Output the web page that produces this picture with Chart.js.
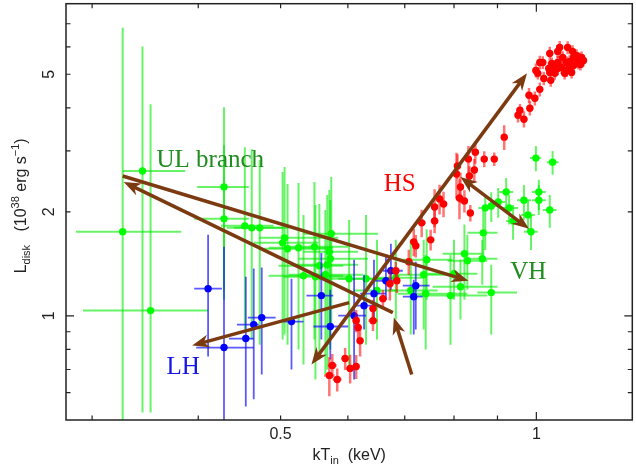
<!doctype html>
<html>
<head>
<meta charset="utf-8">
<title>Ldisk vs kTin</title>
<script src="https://cdn.jsdelivr.net/npm/chart.js@4/dist/chart.umd.min.js"></script>
<style>
  html, body { margin: 0; padding: 0; background: #fff; }
</style>
</head>
<body>
<canvas id="canvas" width="636" height="467"></canvas>
<script>
// axis ranges and ticks
var xRange = [0.2795, 1.297];
var yRange = [0.5, 8.0];
var xTicks = [0.3, 0.4, 0.5, 0.6, 0.7, 0.8, 0.9, 1];
var xLong = [1];
var xLabels = [0.5, 1];
var yTicks = [0.6, 0.7, 0.8, 0.9, 1, 2, 3, 4, 5, 6, 7];
var yLong = [1];
var yLabels = [1, 2, 5];

// green points (UL branch / VH)
var greenT   = [0.3259,0.3439,0.3515,0.4289,0.4289,0.4538,0.4624,0.4725,0.5054,0.5027,0.5095,0.5249,0.548,0.5736,0.5706,0.5721,0.5554,0.5675,0.5645,0.532,0.5495,0.6021,0.6303,0.6492,0.6833,0.7115,0.7429,0.7369,0.7409,0.7924,0.80,0.8141,0.8229,0.8295,0.8637,0.885,0.866,0.9856,0.9389,0.9777,0.9289,0.9018,0.885,0.8707,0.9215,0.9669,1.0067,1.0067,1.037,0.9987,1.045];
var greenTlo = [0.2872,0.3259,0.2927,0.3988,0.3956,0.4254,0.4323,0.4405,0.4713,0.4649,0.4776,0.4841,0.5108,0.532,0.532,0.5249,0.4973,0.5178,0.5108,0.4841,0.504,0.5539,0.5845,0.6086,0.6423,0.6688,0.6963,0.6778,0.687,0.725,0.7449,0.7549,0.7755,0.7861,0.8295,0.8522,0.8295,0.9669,0.9215,0.9594,0.9115,0.885,0.8683,0.8545,0.9042,0.949,0.988,0.988,1.0176,0.9829,1.0288];
var greenThi = [0.382,0.3861,0.4108,0.4587,0.4587,0.4906,0.504,0.5108,0.5845,0.5539,0.569,0.5767,0.6005,0.651,0.6169,0.6337,0.5925,0.6169,0.6252,0.5925,0.6005,0.6598,0.687,0.687,0.7349,0.7652,0.7967,0.8075,0.8295,0.8755,0.8522,0.90,0.8637,0.8755,0.90,0.949,0.90,1.004,0.9568,0.996,0.9515,0.919,0.9018,0.8874,0.9389,0.9856,1.0259,1.0259,1.0567,1.0121,1.0624];
var greenL   = [1.751,2.625,1.036,2.36,1.909,1.822,1.798,1.798,1.682,1.627,1.564,1.574,1.584,1.728,1.533,1.464,1.397,1.406,1.316,1.307,1.298,1.281,1.281,1.184,1.29,1.184,1.454,1.316,1.16,1.145,1.325,1.215,1.513,1.444,1.464,1.168,1.739,1.751,1.883,1.96,2.053,2.136,2.08,2.053,2.283,2.16,2.283,2.16,2.025,2.861,2.782];
var greenLlo = [0.48,0.526,0.526,1.115,1.191,0.913,0.854,0.826,0.883,0.854,0.826,0.80,0.854,0.913,0.826,0.80,0.748,0.70,0.677,0.724,0.655,0.70,0.826,0.854,0.976,0.883,1.114,0.913,0.80,0.826,1.114,0.976,1.114,1.191,1.231,0.883,1.453,1.552,1.66,1.751,1.838,1.922,1.868,1.552,2.053,1.895,2.025,1.96,1.798,2.62,2.56];
var greenLhi = [6.82,6.015,4.094,4.013,3.119,3.077,3.037,2.823,2.695,2.608,2.408,2.424,2.44,2.522,2.314,2.165,2.108,2.238,2.025,1.96,2.094,1.895,1.96,1.66,1.66,1.66,1.782,1.66,1.503,1.503,1.66,1.453,1.838,1.717,1.66,1.406,2.025,1.96,2.094,2.16,2.238,2.344,2.28,2.238,2.507,2.392,2.475,2.392,2.238,3.1,3.0];

// blue points (LH)
var blueT   = [0.4108,0.4289,0.455,0.4649,0.4751,0.515,0.5584,0.5721,0.6102,0.6269,0.644,0.6652,0.6742,0.7212,0.7173];
var blueTlo = [0.3956,0.3978,0.4347,0.4442,0.4575,0.504,0.5363,0.5465,0.5845,0.6086,0.6202,0.6458,0.6598,0.6963,0.6963];
var blueThi = [0.4265,0.4649,0.4649,0.4713,0.4933,0.532,0.5767,0.6005,0.6303,0.6458,0.6652,0.687,0.6963,0.7489,0.7349];
var blueL   = [1.199,0.81,0.86,0.944,0.989,0.963,1.145,0.932,1.002,1.071,1.16,1.264,1.351,1.223,1.137];
var blueLlo = [0.763,0.48,0.547,0.574,0.677,0.70,0.854,0.748,0.655,0.913,0.976,1.114,1.191,0.913,0.883];
var blueLhi = [1.717,1.584,1.298,1.372,1.38,1.281,1.52,1.191,1.453,1.316,1.453,1.503,1.617,1.434,1.272];

// red points (HS)
var redT = [0.5706,0.5752,0.583,0.5956,0.6037,0.6136,0.6202,0.6169,0.6136,0.6423,0.6423,0.6598,0.6724,0.6852,0.6833,0.7077,0.7173,0.7212,0.7509,0.7329,0.759,0.759,0.7693,0.7776,0.8119,0.8229,0.8141,0.8362,0.8054,0.8075,0.834,0.8453,0.8318,0.8476,0.8683,0.8922,0.9166,
  0.9515,0.9565,0.9669,0.9826,0.9803,0.996,1.0094,0.9987,1.0094,1.0176,1.037,1.0204,1.0398,1.037,1.0596,1.0513,1.0596,1.0653,1.0596,1.0739,1.0885,1.103,1.106,1.115,1.1242,1.1303,1.106,1.0943,1.0855,1.0797,1.0943,1.1182,1.1212,1.071,1.0513,1.0342,1.004,1.0426,1.1363,1.1003,1.1272,1.0855];
var redL = [0.673,0.719,0.655,0.753,0.705,0.714,0.848,0.926,0.969,0.969,1.05,1.122,1.239,1.264,1.351,1.434,1.638,1.595,1.66,1.859,1.883,2.066,2.179,2.108,2.194,2.151,2.36,1.985,2.573,2.713,2.539,2.642,2.842,2.977,2.842,2.842,3.289,
  3.805,3.934,3.706,3.987,4.346,4.26,4.522,5.13,5.41,5.41,5.742,4.865,4.801,5.063,5.198,5.03,5.41,5.975,5.816,5.592,5.975,5.816,5.592,5.666,5.555,5.592,5.303,5.233,5.13,5.03,5.445,5.445,5.374,5.233,5.233,5.198,5.03,5.374,5.48,5.063,5.339,5.41];
var redTerr = [0.008,0.007,0.007,0.006,0.007,0.006,0.006,0.006,0.006,0.008,0.006,0.007,0.007,0.006,0.006,0.008,0.007,0.007,0.008,0.008,0.008,0.007,0.008,0.008,0.008,0.008,0.008,0.007,0.008,0.008,0.008,0.008,0.008,0.008,0.008,0.008,0.008,
  0.008,0.008,0.009,0.009,0.009,0.009,0.009,0.009,0.009,0.009,0.009,0.009,0.009,0.009,0.010,0.009,0.010,0.010,0.010,0.010,0.010,0.010,0.010,0.010,0.010,0.010,0.010,0.010,0.010,0.010,0.010,0.010,0.010,0.010,0.009,0.009,0.009,0.009,0.010,0.010,0.010,0.010];
var redLerr = [0.087,0.057,0.05,0.055,0.067,0.057,0.085,0.067,0.072,0.065,0.063,0.067,0.13,0.1,0.08,0.12,0.15,0.12,0.115,0.17,0.15,0.26,0.215,0.18,0.29,0.16,0.24,0.11,0.39,0.22,0.17,0.2,0.26,0.22,0.15,0.13,0.27,
  0.18,0.17,0.2,0.19,0.22,0.2,0.21,0.24,0.25,0.23,0.26,0.22,0.2,0.22,0.23,0.21,0.24,0.27,0.25,0.24,0.26,0.25,0.23,0.24,0.22,0.23,0.22,0.21,0.22,0.2,0.23,0.22,0.21,0.22,0.21,0.2,0.2,0.22,0.21,0.2,0.21,0.22];

// arrows (data coords), both = head on both ends
var arrowFromT = [0.3259, 0.6778, 0.6021, 0.5436, 0.7134, 0.8141];
var arrowFromL = [2.539, 1.022, 1.093, 0.724, 0.677, 2.522];
var arrowToT   = [0.8318, 0.3268, 0.3935, 0.975, 0.6796, 0.9803];
var arrowToL   = [1.264, 2.44, 0.821, 5.03, 0.989, 1.786];
var arrowBoth  = [false, false, false, true, false, true];

// state labels
var noteText = ['UL branch', 'HS', 'VH', 'LH'];
var noteT    = [0.3572, 0.6612, 0.9314, 0.3669];
var noteL    = [2.695, 2.298, 1.281, 0.677];
var noteColor = ['#1e8c1e', '#ff0000', '#1e8c1e', '#1414e6'];

function toPts(T, L) {
  var out = [];
  for (var i = 0; i < T.length; i++) out.push({x: T[i], y: L[i]});
  return out;
}
function symLo(v, e) { return v.map(function(a, i) { return a - e[i]; }); }
function symHi(v, e) { return v.map(function(a, i) { return a + e[i]; }); }

var datasets = [
  { label: 'HS', data: toPts(redT, redL), backgroundColor: '#ff0000', borderColor: '#ff0000',
    errColor: 'rgba(255,0,0,0.55)', errWidth: 2.5,
    err: { tlo: symLo(redT, redTerr), thi: symHi(redT, redTerr), llo: symLo(redL, redLerr), lhi: symHi(redL, redLerr) } },
  { label: 'LH', data: toPts(blueT, blueL), backgroundColor: '#0000ff', borderColor: '#0000ff',
    errColor: 'rgba(20,20,255,0.7)', errWidth: 1.8,
    err: { tlo: blueTlo, thi: blueThi, llo: blueLlo, lhi: blueLhi } },
  { label: 'UL', data: toPts(greenT, greenL), backgroundColor: '#00ff00', borderColor: '#00ff00',
    errColor: 'rgba(0,235,0,0.6)', errWidth: 2,
    err: { tlo: greenTlo, thi: greenThi, llo: greenLlo, lhi: greenLhi } }
];

var errorBars = {
  id: 'errorBars',
  beforeDatasetDraw: function(chart, args) {
    var ds = chart.data.datasets[args.index];
    var e = ds.err, xs = chart.scales.x, ys = chart.scales.y, a = chart.chartArea;
    var ctx = chart.ctx;
    ctx.save();
    ctx.beginPath();
    ctx.rect(a.left, a.top, a.right - a.left, a.bottom - a.top);
    ctx.clip();
    ctx.strokeStyle = ds.errColor;
    ctx.lineWidth = ds.errWidth;
    for (var i = 0; i < ds.data.length; i++) {
      var px = xs.getPixelForValue(ds.data[i].x), py = ys.getPixelForValue(ds.data[i].y);
      ctx.beginPath();
      ctx.moveTo(xs.getPixelForValue(e.tlo[i]), py);
      ctx.lineTo(xs.getPixelForValue(e.thi[i]), py);
      ctx.moveTo(px, ys.getPixelForValue(e.lhi[i]));
      ctx.lineTo(px, ys.getPixelForValue(e.llo[i]));
      ctx.stroke();
    }
    ctx.restore();
  }
};

function richText(ctx, parts, size) {
  var w = 0;
  parts.forEach(function(p) {
    ctx.font = (p[2] ? 11 : size) + 'px "Liberation Sans"';
    w += ctx.measureText(p[0]).width;
  });
  return w;
}
function drawRich(ctx, parts, size, cx, by) {
  var w = richText(ctx, parts, size), x = cx - w / 2;
  ctx.textAlign = 'left';
  ctx.textBaseline = 'alphabetic';
  parts.forEach(function(p) {
    ctx.font = (p[2] ? 11 : size) + 'px "Liberation Sans"';
    var dy = p[2] === 'sub' ? 4 : (p[2] === 'sup' ? -7 : 0);
    ctx.fillText(p[0], x, by + dy);
    x += ctx.measureText(p[0]).width;
  });
}

function arrowHead(ctx, x1, y1, x2, y2) {
  var ang = Math.atan2(y2 - y1, x2 - x1), c = Math.cos(ang), s = Math.sin(ang);
  var len = 17, wid = 6.5;
  ctx.beginPath();
  ctx.moveTo(x2, y2);
  ctx.lineTo(x2 - len * c + wid * s, y2 - len * s - wid * c);
  ctx.lineTo(x2 - len * 0.7 * c, y2 - len * 0.7 * s);
  ctx.lineTo(x2 - len * c - wid * s, y2 - len * s + wid * c);
  ctx.closePath();
  ctx.fill();
}

var decorations = {
  id: 'decorations',
  afterDraw: function(chart) {
    var ctx = chart.ctx, a = chart.chartArea, xs = chart.scales.x, ys = chart.scales.y;
    ctx.save();

    // arrows
    ctx.strokeStyle = '#7c3a10';
    ctx.fillStyle = '#7c3a10';
    ctx.lineWidth = 3.5;
    ctx.lineCap = 'butt';
    for (var i = 0; i < arrowFromT.length; i++) {
      var x1 = xs.getPixelForValue(arrowFromT[i]), y1 = ys.getPixelForValue(arrowFromL[i]);
      var x2 = xs.getPixelForValue(arrowToT[i]), y2 = ys.getPixelForValue(arrowToL[i]);
      var d = Math.hypot(x2 - x1, y2 - y1), ux = (x2 - x1) / d, uy = (y2 - y1) / d;
      var sx = x1, sy = y1;
      if (arrowBoth[i]) { sx = x1 + ux * 10; sy = y1 + uy * 10; }
      ctx.beginPath();
      ctx.moveTo(sx, sy);
      ctx.lineTo(x2 - ux * 10, y2 - uy * 10);
      ctx.stroke();
      arrowHead(ctx, x1, y1, x2, y2);
      if (arrowBoth[i]) arrowHead(ctx, x2, y2, x1, y1);
    }

    // labels
    ctx.font = '25px "Liberation Serif"';
    ctx.textAlign = 'left';
    ctx.textBaseline = 'alphabetic';
    for (var k = 0; k < noteText.length; k++) {
      ctx.fillStyle = noteColor[k];
      ctx.fillText(noteText[k], xs.getPixelForValue(noteT[k]), ys.getPixelForValue(noteL[k]));
    }

    // frame and ticks
    ctx.strokeStyle = '#222';
    ctx.lineWidth = 1.5;
    ctx.strokeRect(a.left, a.top, a.right - a.left, a.bottom - a.top);
    ctx.lineWidth = 1.2;
    ctx.beginPath();
    xTicks.forEach(function(v) {
      var px = xs.getPixelForValue(v), len = xLong.indexOf(v) >= 0 ? 8 : 4.5;
      ctx.moveTo(px, a.bottom); ctx.lineTo(px, a.bottom - len);
      ctx.moveTo(px, a.top); ctx.lineTo(px, a.top + len);
    });
    yTicks.forEach(function(v) {
      var py = ys.getPixelForValue(v), len = yLong.indexOf(v) >= 0 ? 8 : 4.5;
      ctx.moveTo(a.left, py); ctx.lineTo(a.left + len, py);
      ctx.moveTo(a.right, py); ctx.lineTo(a.right - len, py);
    });
    ctx.stroke();

    // tick labels
    ctx.fillStyle = '#222';
    ctx.font = '16px "Liberation Sans"';
    ctx.textAlign = 'center';
    ctx.textBaseline = 'alphabetic';
    xLabels.forEach(function(v) {
      ctx.fillText(String(v), xs.getPixelForValue(v), a.bottom + 19);
    });
    yLabels.forEach(function(v) {
      ctx.save();
      ctx.translate(a.left - 12, ys.getPixelForValue(v));
      ctx.rotate(-Math.PI / 2);
      ctx.fillText(String(v), 0, 0);
      ctx.restore();
    });

    // axis titles
    drawRich(ctx, [['kT'], ['in', 0, 'sub'], ['  (keV)']], 16, (a.left + a.right) / 2, a.bottom + 40);
    ctx.save();
    ctx.translate(26, (a.top + a.bottom) / 2 - 6);
    ctx.rotate(-Math.PI / 2);
    drawRich(ctx, [['L'], ['disk', 0, 'sub'], ['   (10'], ['38', 0, 'sup'], [' erg s'], ['\u22121', 0, 'sup'], [')']], 16, 0, 0);
    ctx.restore();

    ctx.restore();
  }
};

new Chart(document.getElementById('canvas'), {
  type: 'scatter',
  data: { datasets: datasets },
  options: {
    responsive: false,
    animation: false,
    devicePixelRatio: 1,
    layout: { padding: { left: 66, right: 0, top: 3, bottom: 47 } },
    elements: { point: { radius: 3.7, borderWidth: 0, hoverRadius: 3.7 } },
    scales: {
      x: { type: 'logarithmic', min: xRange[0], max: xRange[1], bounds: 'data', display: false },
      y: { type: 'logarithmic', min: yRange[0], max: yRange[1], bounds: 'data', display: false }
    },
    plugins: { legend: { display: false }, tooltip: { enabled: false } }
  },
  plugins: [errorBars, decorations]
});
</script>
</body>
</html>
